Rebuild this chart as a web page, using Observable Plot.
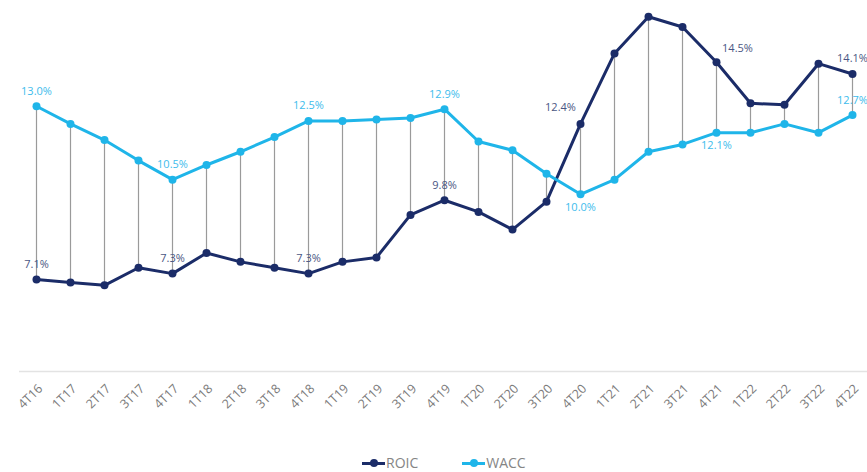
<!DOCTYPE html>
<html>
<head>
<meta charset="utf-8">
<script src="https://cdn.jsdelivr.net/npm/d3@7"></script>
<script src="https://cdn.jsdelivr.net/npm/@observablehq/plot@0.6"></script>
<style>
  html, body { margin: 0; padding: 0; background: #fff; }
  #chart { width: 867px; height: 472px; position: relative; font-family: "Open Sans", sans-serif; }
  #chart svg { overflow: visible; display: block; }
  .legend { position: absolute; left: 362px; top: 454px; display: flex; gap: 44px; font-size: 14px; line-height: 18px; color: #858585; }
  .legend span { display: inline-flex; align-items: center; }
  .sw { position: relative; width: 23px; height: 10px; margin-right: 1px; }
  .sw i { position: absolute; left: 0; right: 0; top: 4px; height: 3px; }
  .sw b { position: absolute; left: 8px; top: 1px; width: 8px; height: 8px; border-radius: 50%; }
</style>
</head>
<body>
<div id="chart"></div>
<script>
const quarters = ["4T16","1T17","2T17","3T17","4T17","1T18","2T18","3T18","4T18","1T19","2T19","3T19","4T19","1T20","2T20","3T20","4T20","1T21","2T21","3T21","4T21","1T22","2T22","3T22","4T22"];
const roic = [7.1, 7.0, 6.9, 7.5, 7.3, 8.0, 7.7, 7.5, 7.3, 7.7, 7.85, 9.3, 9.8, 9.4, 8.8, 9.75, 12.4, 14.8, 16.05, 15.7, 14.5, 13.1, 13.05, 14.45, 14.1];
const wacc = [13.0, 12.4, 11.85, 11.15, 10.5, 11.0, 11.45, 11.95, 12.5, 12.5, 12.55, 12.6, 12.9, 11.8, 11.5, 10.7, 10.0, 10.5, 11.45, 11.7, 12.1, 12.1, 12.4, 12.1, 12.7];
const labelIdx = [0, 4, 8, 12, 16, 20, 24];
const seriesNames = ["ROIC", "WACC"];
const colors = {ROIC: "#1b2c68", WACC: "#1fb5e9"};
const labelColors = {ROIC: "#4a5683", WACC: "#3dbcec"};

const rows = quarters.map((q, i) => ({q, roic: roic[i], wacc: wacc[i], i}));
const long = [];
for (const r of rows) {
  long.push({q: r.q, v: r.roic, s: "ROIC", i: r.i});
  long.push({q: r.q, v: r.wacc, s: "WACC", i: r.i});
}
const labels = long.filter(d => labelIdx.includes(d.i));
const place = (d) => {
  if (d.s === "ROIC") {
    if (d.q === "4T20") return {dx: -20, dy: -16};
    if (d.q === "4T21") return {dx: 21, dy: -14};
    return {dx: 0, dy: -15};
  } else {
    if (d.q === "4T20" || d.q === "4T21") return {dx: 0, dy: 13};
    return {dx: 0, dy: -15};
  }
};
const labelMarks = labels.map(d => {
  const p = place(d);
  return Plot.text([d], {x: "q", y: "v", text: d => d.v.toFixed(1) + "%", dx: p.dx, dy: p.dy,
    fill: labelColors[d.s], fontSize: 11, fontFamily: "Open Sans, sans-serif"});
});

const chart = Plot.plot({
  width: 867,
  height: 445,
  marginTop: 3,
  marginBottom: 75,
  marginLeft: 35,
  marginRight: 14,
  style: {fontFamily: "Open Sans, sans-serif", background: "#fff"},
  x: {type: "point", domain: quarters, padding: 0, label: null},
  y: {domain: [4, 16.5], axis: null},
  marks: [
    Plot.ruleY([4], {stroke: "#e3e3e3", strokeWidth: 1.5, dy: 1, insetLeft: -16, insetRight: -14}),
    Plot.ruleX(rows, {x: "q", y1: "roic", y2: "wacc", stroke: "#9a9a9a", strokeWidth: 1.2}),
    Plot.line(long, {x: "q", y: "v", z: "s", stroke: d => colors[d.s], strokeWidth: 3}),
    Plot.dot(long, {x: "q", y: "v", fill: d => colors[d.s], r: 4, stroke: "none"}),
    Plot.axisX({tickSize: 0, tickPadding: 16, dx: 4, tickRotate: -45, fontSize: 12.5, fill: "#7a7a7a", label: null}),
    ...labelMarks
  ]
});
chart.style.overflow = "visible";
const root = document.getElementById("chart");
root.appendChild(chart);

const legend = document.createElement("div");
legend.className = "legend";
for (const s of seriesNames) {
  const item = document.createElement("span");
  item.innerHTML = `<span class="sw"><i style="background:${colors[s]}"></i><b style="background:${colors[s]}"></b></span>${s}`;
  legend.appendChild(item);
}
root.appendChild(legend);
</script>
</body>
</html>
